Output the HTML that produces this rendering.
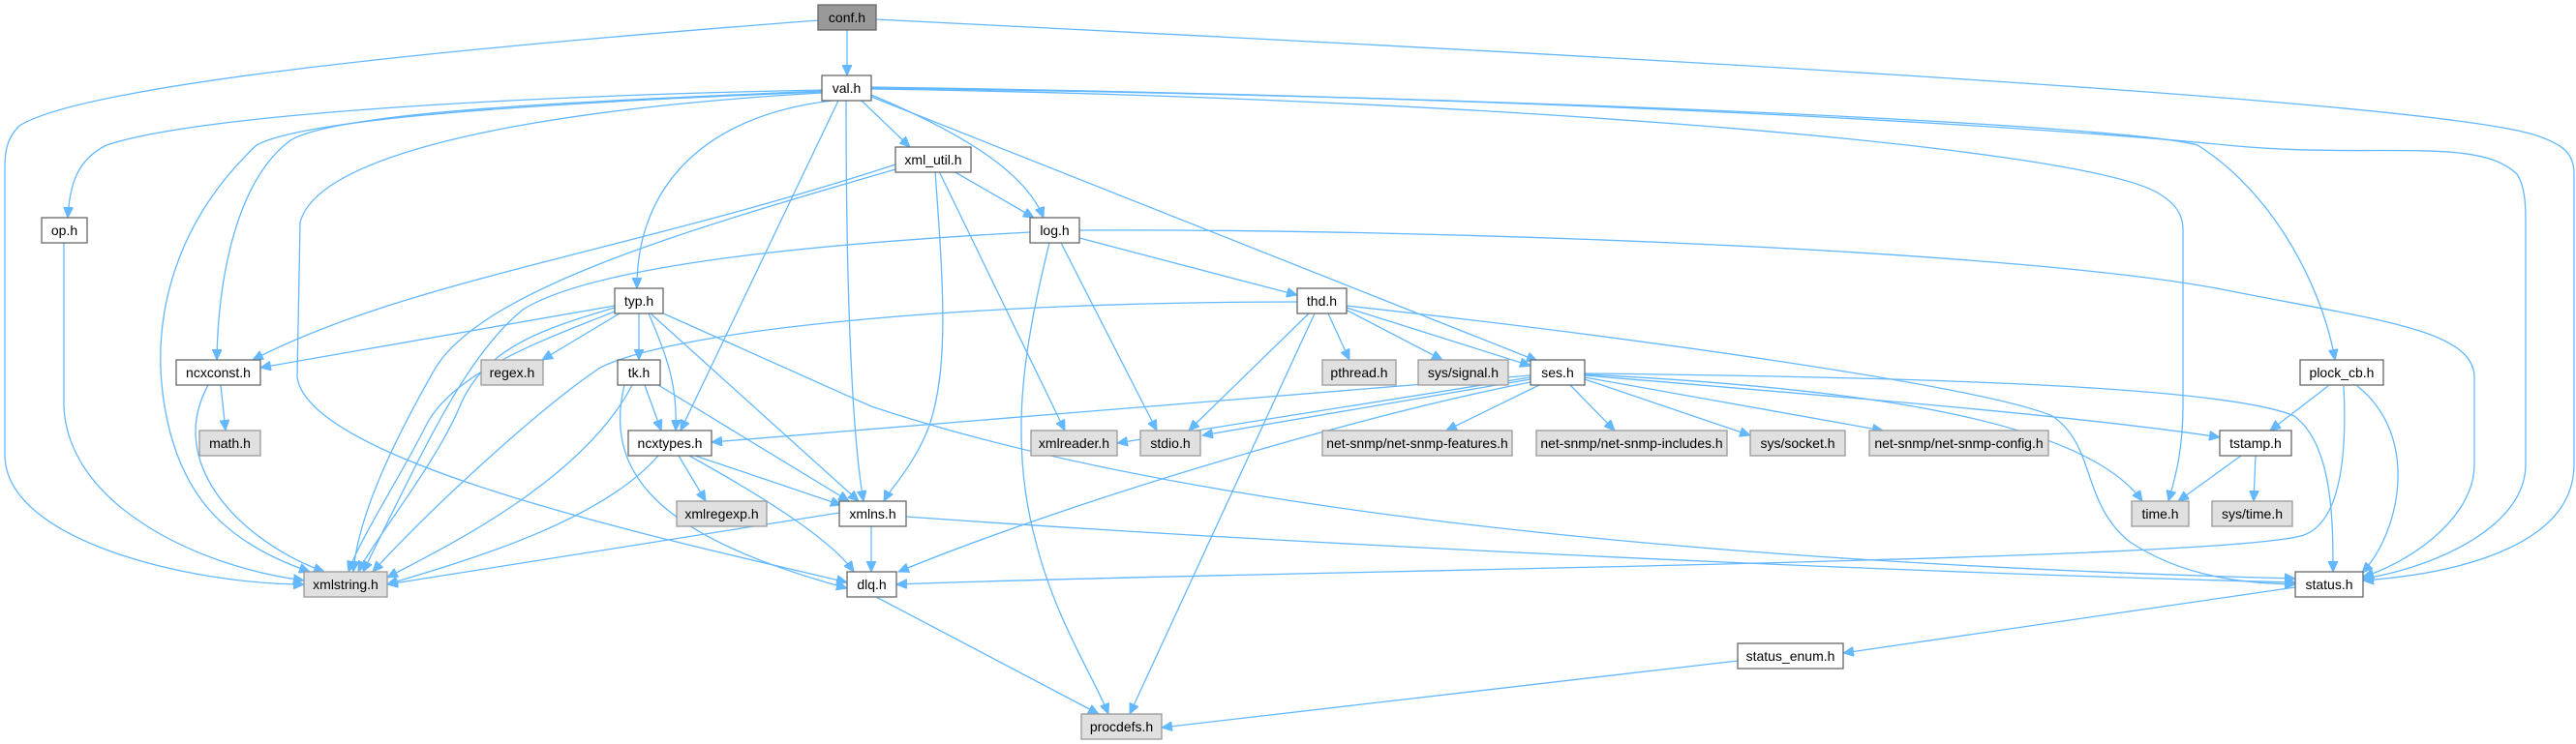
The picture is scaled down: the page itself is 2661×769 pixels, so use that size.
<!DOCTYPE html>
<html><head><meta charset="utf-8"><style>
html,body{margin:0;padding:0;background:#fff}
svg{display:block}
text{font-family:"Liberation Sans",Arial,sans-serif;font-size:14px;text-anchor:middle;fill:#000}
.e{fill:none;stroke:#63b8ff;stroke-width:1.3}
.n{fill:#fff;stroke:#666;stroke-width:1.3}
.g{fill:#e0e0e0;stroke:#999;stroke-width:1.3}
.c{fill:#999;stroke:#666;stroke-width:1.3}
</style></head><body>
<svg width="2661" height="769" viewBox="0 0 2661 769" xmlns="http://www.w3.org/2000/svg">
<defs><marker id="a" markerWidth="12" markerHeight="10" refX="11" refY="5" orient="auto" markerUnits="userSpaceOnUse"><path d="M0,0 L11,5 L0,10 z" fill="#63b8ff" stroke="#63b8ff"/></marker></defs>
<g class="e" marker-end="url(#a)">
<path d="M875,31 L875,78"/>
<path d="M845,21 C600,40 100,80 20,130 C5,145 5,160 5,180 L5,470 C5,560 200,604 314,604"/>
<path d="M905,20 C1500,50 2500,100 2620,140 C2650,150 2659,160 2659,180 L2659,480 C2659,560 2550,592 2441,600"/>
<path d="M849,93 C500,100 200,120 110,150 C80,165 72,190 70,225"/>
<path d="M849,94 C600,105 350,115 300,145 C240,190 225,300 224,372"/>
<path d="M849,95 C600,105 320,120 265,150 C180,230 155,330 170,420 C185,510 230,560 320,591"/>
<path d="M849,96 C600,110 330,150 310,230 L307,390 C320,480 700,560 875,602"/>
<path d="M860,104 C720,120 657,200 658,298"/>
<path d="M866,104 L703,445"/>
<path d="M874,104 C874,300 880,450 892,518"/>
<path d="M890,104 L940,152"/>
<path d="M900,98 C1000,140 1060,180 1078,225"/>
<path d="M900,100 L1588,373"/>
<path d="M900,92 C1500,100 2150,150 2230,200 C2255,215 2255,230 2255,240 L2255,420 C2255,470 2245,500 2240,518"/>
<path d="M900,90 C1600,100 2100,130 2300,150 C2450,165 2560,140 2600,180 C2610,195 2609,220 2609,240 L2609,480 C2609,550 2500,590 2441,598"/>
<path d="M900,91 C1600,100 2200,130 2270,150 C2350,200 2400,300 2412,372"/>
<path d="M925,170 C650,260 420,290 261,372"/>
<path d="M925,175 C700,240 500,300 450,380 C410,450 370,530 365,591"/>
<path d="M985,177 L1068,225"/>
<path d="M970,177 L1100,445"/>
<path d="M966,177 C975,300 980,380 960,440 C945,480 920,505 913,518"/>
<path d="M1064,240 C880,250 620,270 540,320 C480,370 440,460 375,591"/>
<path d="M1115,246 L1340,305"/>
<path d="M1096,251 L1195,445"/>
<path d="M1084,251 C1060,350 1040,450 1070,560 C1090,640 1130,700 1145,738"/>
<path d="M1115,238 C1500,236 2100,260 2300,300 C2450,330 2556,340 2556,390 L2556,480 C2556,540 2480,585 2441,596"/>
<path d="M1340,312 C1000,312 700,340 620,380 C560,420 450,520 385,591"/>
<path d="M1352,324 L1228,445"/>
<path d="M1358,324 L1167,738"/>
<path d="M1372,324 L1394,372"/>
<path d="M1390,320 L1490,372"/>
<path d="M1391,318 L1581,378"/>
<path d="M1391,316 C1700,350 2050,400 2120,430 C2165,460 2150,520 2200,560 C2260,600 2330,603 2371,604"/>
<path d="M1581,388 L735,457"/>
<path d="M1581,390 L1154,458"/>
<path d="M1581,392 L1242,450"/>
<path d="M1581,395 C1400,430 1100,520 928,591"/>
<path d="M1590,398 L1494,445"/>
<path d="M1622,398 L1668,445"/>
<path d="M1637,392 L1808,450"/>
<path d="M1637,390 L1945,445"/>
<path d="M1637,388 C1900,410 2150,430 2293,452"/>
<path d="M1637,387 C1900,400 2150,430 2213,518"/>
<path d="M1637,386 C2000,390 2300,400 2370,430 C2410,460 2410,540 2410,591"/>
<path d="M2421,399 C2425,480 2415,540 2380,553 C2300,580 1300,590 926,604"/>
<path d="M936,534 C1300,560 1900,590 2371,602"/>
<path d="M683,323 L900,420 C1200,520 1700,580 2371,598"/>
<path d="M2371,607 L1904,675"/>
<path d="M1795,683 L1200,752"/>
<path d="M905,617 L1135,738"/>
<path d="M666,398 L683,445"/>
<path d="M680,398 L877,518"/>
<path d="M653,398 C600,500 450,570 400,597"/>
<path d="M645,398 C620,500 700,560 875,608"/>
<path d="M635,316 L269,380"/>
<path d="M635,318 C560,340 500,360 475,420 C450,480 385,560 370,591"/>
<path d="M637,321 C580,345 470,380 440,440 C415,490 370,560 360,591"/>
<path d="M640,324 L560,372"/>
<path d="M660,324 L660,372"/>
<path d="M670,324 C690,370 700,400 698,445"/>
<path d="M672,324 L887,518"/>
<path d="M680,471 C620,540 480,580 400,604"/>
<path d="M701,471 L729,518"/>
<path d="M718,471 L869,522"/>
<path d="M712,471 C800,520 860,560 882,591"/>
<path d="M867,530 L400,604"/>
<path d="M900,544 L900,591"/>
<path d="M66,251 L66,420 C70,520 200,585 314,600"/>
<path d="M215,398 C170,480 250,560 335,591"/>
<path d="M228,398 L233,445"/>
<path d="M2405,399 L2345,445"/>
<path d="M2435,399 C2500,450 2480,550 2440,592"/>
<path d="M2315,471 L2250,518"/>
<path d="M2330,471 L2328,518"/>
</g>
<g>
<rect class="c" x="845" y="5" width="60" height="26"/><text x="875" y="23">conf.h</text>
<rect class="n" x="849" y="78" width="51" height="26"/><text x="874.5" y="96">val.h</text>
<rect class="n" x="925" y="152" width="78" height="26"/><text x="964" y="170">xml_util.h</text>
<rect class="n" x="43" y="225" width="47" height="26"/><text x="66.5" y="243">op.h</text>
<rect class="n" x="1064" y="225" width="51" height="26"/><text x="1089.5" y="243">log.h</text>
<rect class="n" x="635" y="298" width="50" height="26"/><text x="660" y="316">typ.h</text>
<rect class="n" x="1340" y="298" width="51" height="26"/><text x="1365.5" y="316">thd.h</text>
<rect class="n" x="182" y="372" width="87" height="26"/><text x="225.5" y="390">ncxconst.h</text>
<rect class="g" x="497" y="372" width="64" height="26"/><text x="529" y="390">regex.h</text>
<rect class="n" x="638" y="372" width="44" height="26"/><text x="660" y="390">tk.h</text>
<rect class="g" x="1366" y="372" width="76" height="26"/><text x="1404" y="390">pthread.h</text>
<rect class="g" x="1465" y="372" width="93" height="26"/><text x="1511.5" y="390">sys/signal.h</text>
<rect class="n" x="1581" y="372" width="56" height="26"/><text x="1609" y="390">ses.h</text>
<rect class="n" x="2376" y="372" width="86" height="26"/><text x="2419" y="390">plock_cb.h</text>
<rect class="g" x="206" y="445" width="63" height="26"/><text x="237.5" y="463">math.h</text>
<rect class="n" x="649" y="445" width="86" height="26"/><text x="692" y="463">ncxtypes.h</text>
<rect class="g" x="1065" y="445" width="89" height="26"/><text x="1109.5" y="463">xmlreader.h</text>
<rect class="g" x="1178" y="445" width="62" height="26"/><text x="1209" y="463">stdio.h</text>
<rect class="g" x="1366" y="445" width="196" height="26"/><text x="1464" y="463">net-snmp/net-snmp-features.h</text>
<rect class="g" x="1587" y="445" width="197" height="26"/><text x="1685.5" y="463">net-snmp/net-snmp-includes.h</text>
<rect class="g" x="1808" y="445" width="98" height="26"/><text x="1857" y="463">sys/socket.h</text>
<rect class="g" x="1931" y="445" width="185" height="26"/><text x="2023.5" y="463">net-snmp/net-snmp-config.h</text>
<rect class="n" x="2293" y="445" width="74" height="26"/><text x="2330" y="463">tstamp.h</text>
<rect class="g" x="699" y="518" width="93" height="26"/><text x="745.5" y="536">xmlregexp.h</text>
<rect class="n" x="867" y="518" width="69" height="26"/><text x="901.5" y="536">xmlns.h</text>
<rect class="g" x="2202" y="518" width="59" height="26"/><text x="2231.5" y="536">time.h</text>
<rect class="g" x="2285" y="518" width="83" height="26"/><text x="2326.5" y="536">sys/time.h</text>
<rect class="g" x="314" y="591" width="86" height="26"/><text x="357" y="609">xmlstring.h</text>
<rect class="n" x="875" y="591" width="51" height="26"/><text x="900.5" y="609">dlq.h</text>
<rect class="n" x="2371" y="591" width="70" height="26"/><text x="2406" y="609">status.h</text>
<rect class="n" x="1795" y="665" width="109" height="26"/><text x="1849.5" y="683">status_enum.h</text>
<rect class="g" x="1117" y="738" width="83" height="26"/><text x="1158.5" y="756">procdefs.h</text>
</g>
</svg>
</body></html>
